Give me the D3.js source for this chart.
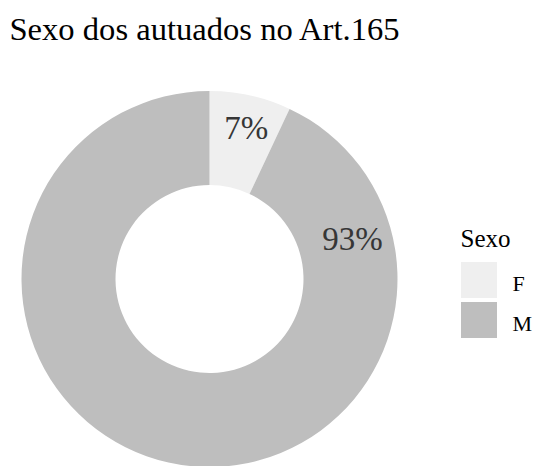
<!DOCTYPE html>
<html>
<head>
<meta charset="utf-8">
<script src="https://cdn.jsdelivr.net/npm/d3@7"></script>
<style>
  html, body { margin: 0; padding: 0; background: #fff; }
  svg { display: block; }
</style>
</head>
<body>
<svg id="chart" width="535" height="466"></svg>
<script>
// Share of people cited under Art. 165, by sex
const categories = ["F", "M"];
const shares = [7, 93];
const pctLabels = ["7%", "93%"];
const legendTitle = "Sexo";
const chartTitle = "Sexo dos autuados no Art.165";

const FONT = "'Liberation Serif', 'Times New Roman', Times, 'DejaVu Serif', serif";
const cx = 209.5, cy = 279;
const outerR = 188, innerR = 94;

const svg = d3.select("#chart").style("font-family", FONT);

const color = d3.scaleOrdinal()
  .domain(categories)
  .range(["#efefef", "#bebebe"]);

const data = categories.map((c, i) => ({ cat: c, value: shares[i], label: pctLabels[i] }));

const pie = d3.pie().value(d => d.value).sort(null);
const arcs = pie(data);
const arc = d3.arc().innerRadius(innerR).outerRadius(outerR);

const g = svg.append("g").attr("transform", `translate(${cx},${cy})`);

g.selectAll("path.slice")
  .data(arcs)
  .join("path")
  .attr("class", "slice")
  .attr("d", arc)
  .attr("fill", d => color(d.data.cat));

// label placement around the ring (turn fraction, radius)
const labelAngle = d3.scaleOrdinal().domain(categories).range([0.038, 0.207]);
const labelRadius = d3.scaleOrdinal().domain(categories).range([155, 148.5]);

g.selectAll("text.pct")
  .data(arcs)
  .join("text")
  .attr("class", "pct")
  .attr("font-family", FONT)
  .attr("transform", d => {
    const [x, y] = d3.pointRadial(labelAngle(d.data.cat) * 2 * Math.PI, labelRadius(d.data.cat));
    return `translate(${x},${y})`;
  })
  .attr("text-anchor", "middle")
  .attr("dy", "0.33em")
  .attr("font-size", 33)
  .attr("fill", "#363636")
  .text(d => d.data.label);

// title
svg.append("text")
  .attr("font-family", FONT)
  .attr("x", 9.5)
  .attr("y", 39.5)
  .attr("font-size", 32.6)
  .attr("fill", "#000")
  .text(chartTitle);

// legend
const legend = svg.append("g").attr("transform", "translate(460.5,0)");
legend.append("text")
  .attr("font-family", FONT)
  .attr("x", 0)
  .attr("y", 246.5)
  .attr("font-size", 25)
  .attr("fill", "#000")
  .text(legendTitle);

const keyY = d3.scaleBand().domain(categories).range([260.5, 340.5]).paddingInner(0);
const keyItems = legend.selectAll("g.key")
  .data(categories)
  .join("g")
  .attr("class", "key")
  .attr("transform", d => `translate(0,${keyY(d)})`);

keyItems.append("rect")
  .attr("x", 0.5)
  .attr("y", 1.5)
  .attr("width", 36)
  .attr("height", 36)
  .attr("fill", d => color(d));

keyItems.append("text")
  .attr("font-family", FONT)
  .attr("x", 52)
  .attr("y", 30.5)
  .attr("font-size", 22)
  .attr("fill", "#000")
  .text(d => d);
</script>
</body>
</html>
